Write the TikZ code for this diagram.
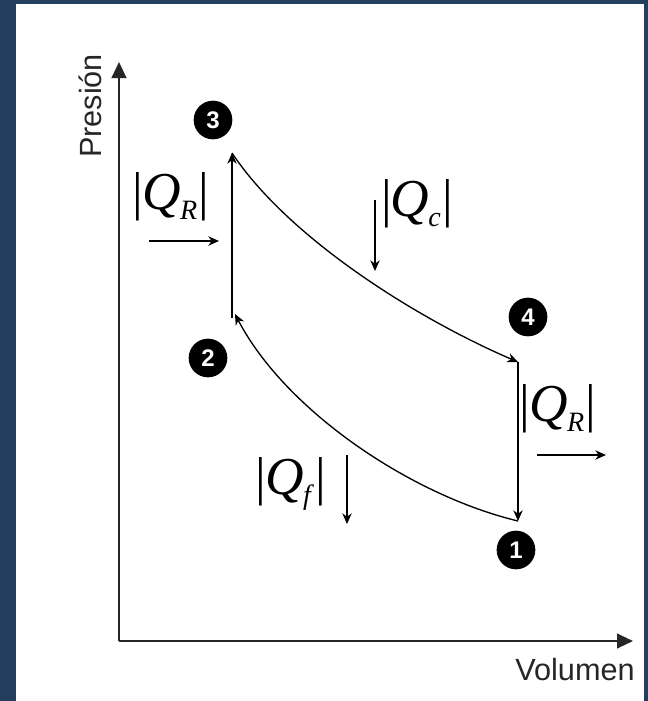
\documentclass[tikz,border=0pt]{standalone}
\usepackage{fontspec}
\setmainfont{Liberation Sans}
\newfontfamily\qfont{Liberation Serif}
\usetikzlibrary{arrows.meta,positioning,calc}
\definecolor{Frame}{RGB}{36,62,95}
\newcommand{\absq}[1]{{\qfont\fontsize{40}{40}\selectfont|\kern-1pt\textit{Q}\kern-0.5pt\raisebox{-7pt}{\fontsize{21}{21}\selectfont\textit{#1}}\kern1pt|}}

\begin{document}
\begin{tikzpicture}[x=0.75pt,y=-0.75pt,
  dot/.style={circle,fill=black,text=white,inner sep=0pt,minimum size=29pt,font=\bfseries\fontsize{18}{18}\selectfont},
  axis/.style={line width=1.6pt,draw=black!85,-{Triangle[length=12pt,width=11pt]}},
  cycle/.style={line width=1pt,-{Stealth[length=8pt,width=7pt,inset=2.5pt]}},
  heat/.style={line width=1pt,-{Stealth[length=8pt,width=7pt,inset=2.5pt]}},
  axlabel/.style={font=\fontsize{23}{23}\selectfont,text=black!85,inner sep=0pt},
  qlabel/.style={inner sep=0pt}]
\fill[Frame] (0,0) rectangle (648,701);
\fill[white] (16,4) rectangle (644,701);
\useasboundingbox (0,0) rectangle (648,701);
% axes
\coordinate (o) at (119,641);
\coordinate (ytip) at (119,62);
\coordinate (xtip) at (633,641);
\draw[axis] (o) -- (ytip);
\draw[axis] (o) -- (xtip);
\node[axlabel,rotate=90] (pres) at (90,106) {Presión};
\node[axlabel] (vol) at (575,670) {Volumen};
% states
\coordinate (p1) at (518,521);
\coordinate (p2) at (232,318);
\coordinate (p3) at (232,153);
\coordinate (p4) at (518,362);
\node[dot] (n1) at (516,550) {1};
\node[dot] (n2) at (208,358) {2};
\node[dot] (n3) at (213,120) {3};
\node[dot] (n4) at (528,317) {4};
% cycle
\draw[cycle] (p2) -- (p3);
\draw[cycle] (p3) .. controls (290,240) and (420,320) .. (p4);
\draw[cycle] (p4) -- (p1);
\draw[cycle] (p1) .. controls (410,495) and (285,410) .. (235,314);
% heat flows
\node[qlabel] (qr1) at (171,197) {\absq{R}};
\node[qlabel] (qc) at (417,204) {\absq{c}};
\node[qlabel] (qr2) at (558,409) {\absq{R}};
\node[qlabel] (qf) at (291,484) {\absq{f}};
\coordinate (a1) at (149,241);
\coordinate (b1) at (219,241);
\coordinate (a2) at (375,200);
\coordinate (b2) at (375,271);
\coordinate (a3) at (537,455);
\coordinate (b3) at (606,455);
\coordinate (a4) at (347,455);
\coordinate (b4) at (347,524);
\draw[heat] (a1) -- (b1);
\draw[heat] (a2) -- (b2);
\draw[heat] (a3) -- (b3);
\draw[heat] (a4) -- (b4);
\end{tikzpicture}
\end{document}
